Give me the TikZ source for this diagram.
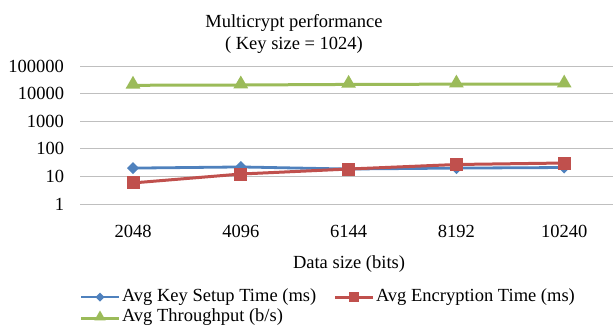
\documentclass[tikz,border=0pt]{standalone}
\usepackage{fontspec}
\setmainfont{Liberation Serif}
\usepackage{tikz}
\usetikzlibrary{shapes.geometric,positioning}
\definecolor{keyblue}{HTML}{4F81BD}
\definecolor{encred}{HTML}{C0504D}
\definecolor{thrgreen}{HTML}{9BBB59}
\tikzstyle{gridln}=[draw=gray!50, line width=1pt]
\tikzstyle{txt}=[inner sep=0pt, font=\fontsize{18.5}{22}\selectfont]
\tikzstyle{keyline}=[draw=keyblue, line width=2.8pt]
\tikzstyle{encline}=[draw=encred, line width=3pt]
\tikzstyle{thrline}=[draw=thrgreen, line width=3pt]
\tikzstyle{keymark}=[diamond, fill=keyblue, inner sep=0pt, minimum size=12pt]
\tikzstyle{encmark}=[rectangle, fill=encred, inner sep=0pt, minimum size=13pt]
\tikzstyle{thrmark}=[regular polygon, regular polygon sides=3, fill=thrgreen, inner sep=0pt, minimum size=17pt]
\tikzset{%
    legkey/.style={keymark, minimum size=9pt},
    legenc/.style={encmark, minimum size=10pt},
    legthr/.style={thrmark, minimum size=13pt},
  }

\begin{document}
\begin{tikzpicture}[x=1pt, y=-1pt, line width=0mm]
    \useasboundingbox (0,0) rectangle (613,325);
    %
    \node (title) [txt, align=center] at (294,34) {Multicrypt performance\\( Key size = 1024)};
    %
    \foreach \e/\lbl in {0/1,1/10,2/100,3/1000,4/10000,5/100000} {
        \coordinate (gl\e) at (80,{204-27.6*\e});
        \coordinate (gr\e) at (613,{204-27.6*\e});
        \draw [gridln] (gl\e) -- (gr\e);
        \node (ylbl\e) [txt, anchor=east] at (64,{204-27.6*\e}) {\lbl};
    }
    %
    \foreach \i/\lbl in {1/2048,2/4096,3/6144,4/8192,5/10240} {
        \node (xlbl\i) [txt] at ({133+107.8*(\i-1)},231) {\lbl};
    }
    \node (xtitle) [txt] at (349,264) {Data size (bits)};
    %
    % throughput given in thousands (b/s)
    \foreach \i/\k/\c/\t in {1/20/5.8/20,2/22/12.2/20.5,3/18.5/18.5/21.5,4/20/27/22,5/21/30.6/22} {
        \coordinate (k\i) at ({133+107.8*(\i-1)},{204-27.6*log10(\k)});
        \coordinate (c\i) at ({133+107.8*(\i-1)},{204-27.6*log10(\c)});
        \coordinate (t\i) at ({133+107.8*(\i-1)},{204-27.6*(3+log10(\t))});
    }
    %
    \draw [keyline] (k1) -- (k2) -- (k3) -- (k4) -- (k5);
    \foreach \i in {1,...,5} \node (km\i) [keymark] at (k\i) {};
    \draw [encline] (c1) -- (c2) -- (c3) -- (c4) -- (c5);
    \foreach \i in {1,...,5} \node (cm\i) [encmark] at (c\i) {};
    \draw [thrline] (t1) -- (t2) -- (t3) -- (t4) -- (t5);
    \foreach \i in {1,...,5} \node (tm\i) [thrmark, yshift=1pt] at (t\i) {};
    %
    % legend
    \coordinate (lk1) at (81,297);
    \coordinate (lk2) at (119,297);
    \draw [keyline] (lk1) -- (lk2);
    \node (lkm) [legkey] at (100,297) {};
    \node (lktxt) [txt, anchor=west] at (122,297) {Avg Key Setup Time (ms)};
    \coordinate (lc1) at (335,297);
    \coordinate (lc2) at (373,297);
    \draw [encline] (lc1) -- (lc2);
    \node (lcm) [legenc] at (354,297) {};
    \node (lctxt) [txt, anchor=west] at (376,297) {Avg Encryption Time (ms)};
    \coordinate (lt1) at (81,318);
    \coordinate (lt2) at (119,318);
    \draw [thrline] (lt1) -- (lt2);
    \node (ltm) [legthr] at (100,317) {};
    \node (lttxt) [txt, anchor=west] at (122,317) {Avg Throughput (b/s)};
\end{tikzpicture}
\end{document}
